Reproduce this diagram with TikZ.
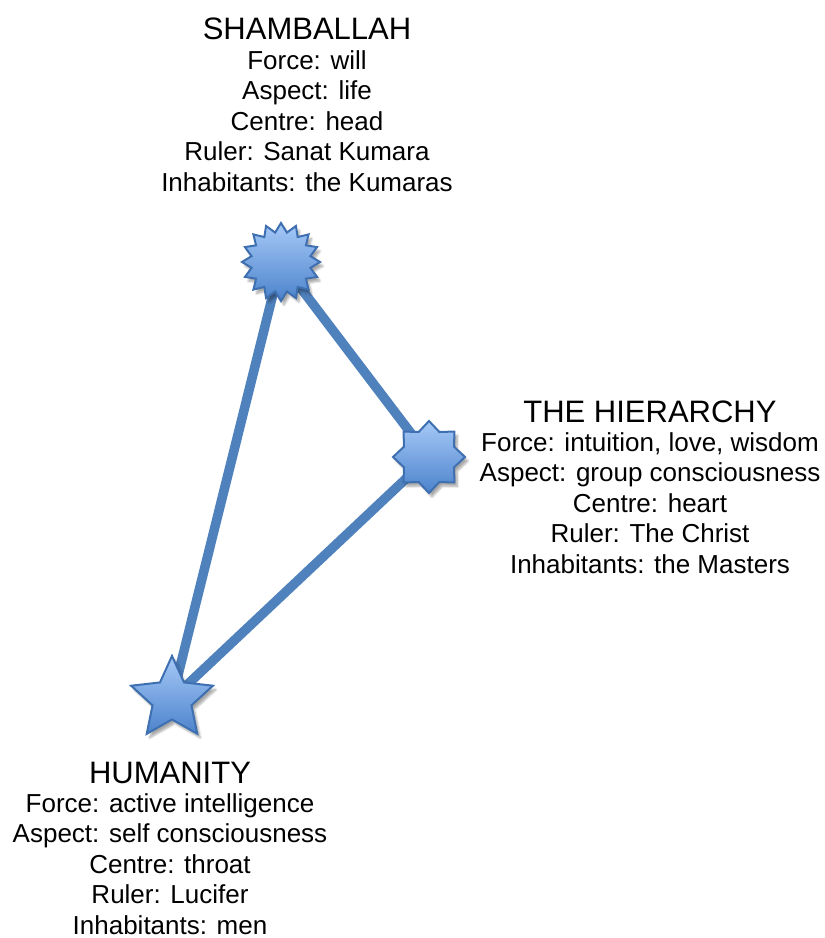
\documentclass[tikz,border=0pt]{standalone}
\usepackage{fontspec}
\setmainfont{Liberation Sans}
\usetikzlibrary{shapes.geometric,backgrounds,shadows.blur}
\definecolor{edgeblue}{HTML}{3E6FB0}
\definecolor{lineblue}{HTML}{4F81BD}
\definecolor{toplight}{HTML}{A6C9F7}
\definecolor{botdark}{HTML}{4C83CC}
\tikzset{
  shapebase/.style={draw=edgeblue, line width=2pt, top color=toplight, bottom color=botdark,
    inner sep=0pt, blur shadow={shadow xshift=3pt, shadow yshift=-4pt, shadow blur steps=6, shadow opacity=35}},
  link/.style={draw=lineblue, line width=9.5pt},
  title/.style={font=\fontsize{31}{31}\selectfont, anchor=base, inner sep=0pt},
  info/.style={font=\fontsize{26}{30.5}\selectfont, align=center, anchor=north, inner sep=0pt},
}
\begin{document}
\begin{tikzpicture}[x=1pt,y=-1pt]
\useasboundingbox (0,0) rectangle (825,938);
% shapes
\node[shapebase, star, star points=16, star point ratio=1.3, minimum size=78pt] (sh) at (281,262) {};
\node[shapebase, star, star points=8, star point ratio=1.33, minimum size=72pt] (hi) at (429,457) {};
\node[shapebase, star, star points=5, star point ratio=2.1, minimum size=86pt] (hu) at (172,699) {};
\begin{pgfonlayer}{background}
\draw[link] (sh.center) -- (hi.center);
\draw[link] (sh.center) -- (hu.center);
\draw[link] (hi.center) -- (hu.center);
\end{pgfonlayer}
% texts
\node[title] (tsh) at (307,39) {SHAMBALLAH};
\node[info] (ish) at (307,50.3) {Force: will\\Aspect: life\\Centre: head\\Ruler: Sanat Kumara\\Inhabitants: the Kumaras};
\node[title] (thi) at (650,422) {THE HIERARCHY};
\node[info] (ihi) at (650,432.3) {Force: intuition, love, wisdom\\Aspect: group consciousness\\Centre: heart\\Ruler: The Christ\\Inhabitants: the Masters};
\node[title] (thu) at (170,783) {HUMANITY};
\node[info] (ihu) at (170,793) {Force: active intelligence\\Aspect: self consciousness\\Centre: throat\\Ruler: Lucifer\\Inhabitants: men};
\end{tikzpicture}
\end{document}
